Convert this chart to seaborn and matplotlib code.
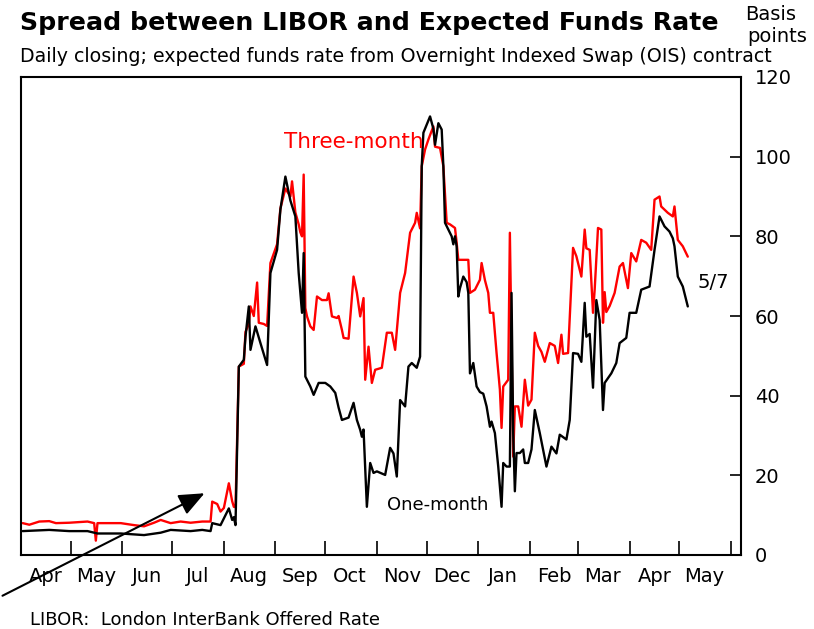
import numpy as np
import pandas as pd
import seaborn as sns
import matplotlib.pyplot as plt
import matplotlib.dates as mdates

sns.set_theme(style='white')
plt.rcParams['font.family'] = ['DejaVu Sans']
plt.rcParams['text.color'] = 'black'

# day offsets from 1 Apr 2007, spread in basis points
days_3m = [1, 5, 11, 17, 21, 29, 40, 44, 45, 46, 52, 60, 68, 74, 80, 84, 90, 96, 102, 109,
           114, 115, 118, 120, 122, 125, 127, 128, 129, 131, 134, 135, 137, 138, 140, 142, 143,
           146, 148, 150, 154, 156, 159, 162, 163, 165, 167, 168, 169, 170, 171, 172, 174, 176,
           178, 181, 184, 185, 187, 190, 191, 193, 194, 197, 200, 202, 204, 206, 207, 209, 211,
           213, 217, 220, 223, 225, 228, 231, 234, 237, 238, 240, 241, 243, 245, 248, 249, 252,
           254, 256, 258, 261, 262, 263, 266, 269, 270, 273, 276, 277, 279, 281, 282, 284, 286,
           288, 289, 290, 293, 294, 296, 297, 299, 301, 303, 305, 307, 309, 311, 313, 315, 318,
           321, 323, 325, 326, 329, 332, 334, 337, 339, 340, 342, 344, 345, 347, 349, 350, 351,
           352, 354, 357, 360, 362, 365, 367, 370, 373, 376, 379, 381, 384, 385, 389, 392, 393,
           395, 398, 401]
spread_3m = [8, 7.6, 8.4, 8.5, 8, 8.1, 8.4, 8, 3.6, 8, 8, 8, 7.5, 7.2, 8.1, 8.8, 8, 8.4, 8.1, 8.4,
             8.4, 13.4, 12.8, 10.9, 11.8, 18, 13.5, 12.1, 12, 47.3, 48, 56, 58, 62.4, 60, 68.4, 58.3,
             58, 57.5, 73.3, 78, 87, 92, 90, 93.8, 86, 83, 81, 80, 95.5, 62, 59.9, 57.4, 56.5,
             64.9, 64, 64, 65.7, 59.9, 59.5, 60, 56.5, 54.5, 54.3, 69.9, 65.8, 59.9, 64.5, 44, 52.3, 43.2,
             46.5, 47, 55.8, 55.8, 51.5, 65.8, 70.8, 80.9, 83.4, 85.9, 82, 97.6, 101.8, 104.3, 107.6, 102.5, 102.2,
             97.6, 83.4, 83, 82.1, 78.4, 74.1, 74.1, 74.1, 65.8, 66.6, 69.1, 73.3, 69, 65.8, 60.8, 60.8, 50.7,
             41.5, 31.9, 42.3, 44, 80.9, 24.7, 37.3, 37.3, 32.2, 44, 37.5, 39, 55.8, 52.5, 51, 48.5, 53.2,
             52.5, 48.2, 55.3, 50.5, 50.7, 77.1, 75, 69.9, 81.7, 77, 76.6, 60.8, 66.6, 82.1, 81.7, 58.3, 66,
             61, 62.5, 65.8, 72.4, 73.3, 67, 75.8, 73.7, 79.1, 78.4, 76.6, 89.2, 90, 87.5, 85.9, 85, 87.5,
             79.1, 77.5, 74.9]

days_1m = [1, 17, 29, 40, 46, 60, 74, 84, 90, 102, 109, 114, 115, 120, 125, 127, 128, 129, 131,
           134, 135, 137, 138, 141, 144, 148, 150, 154, 156, 159, 162, 165, 167, 169, 170, 171,
           174, 176, 179, 183, 186, 189, 191, 193, 197, 200, 202, 204, 205, 206, 208, 210, 212,
           214, 219, 222, 224, 226, 228, 231, 233, 235, 238, 240, 241, 242, 246, 248, 249, 251,
           253, 254, 255, 257, 259, 260, 261, 262, 263, 264, 266, 268, 269, 270, 272, 274, 276,
           278, 280, 282, 283, 285, 287, 289, 290, 292, 294, 295, 296, 297, 298, 300, 302, 303,
           305, 307, 309, 312, 316, 319, 322, 324, 328, 330, 332, 335, 337, 339, 340, 342, 344,
           346, 348, 350, 351, 355, 358, 360, 364, 366, 370, 373, 378, 381, 384, 387, 390, 392,
           393, 395, 398, 401]
spread_1m = [6, 6.3, 6, 6, 5.4, 5.4, 5, 5.6, 6.3, 6, 6.3, 6, 8, 7.5, 11.7, 8.8, 9.5, 7.5, 47.3,
             49, 54.8, 62.4, 51.5, 57.4, 53.2, 47.7, 70.8, 76.6, 86.7, 95, 89, 85, 70.8, 60.8, 75.8, 44.8,
             42.3, 40.2, 43.2, 43.2, 42.3, 40.7, 37, 33.9, 34.5, 38.2, 33.9, 31.4, 29.7, 31.5, 12.1, 23.1, 20.6,
             21, 20.1, 26.9, 25.5, 19.7, 38.9, 37.3, 47.3, 48.2, 47, 49.8, 97.6, 106, 110.1, 107, 103, 108.4,
             106.8, 97.6, 83.4, 81.7, 80, 78, 80, 77.5, 64.9, 67, 69.9, 68.5, 65.8, 45.6, 48.2, 42.3, 40.9,
             40.5, 37.3, 32.2, 33.5, 30.6, 22.2, 12.1, 23.1, 22.2, 22.2, 65.8, 30.6, 16, 25.6, 25.6, 26.5, 23.1,
             23.1, 26.5, 36.4, 30.6, 22.2, 27.2, 25.5, 30.2, 29, 33.9, 50.7, 50.5, 48.5, 63.3, 54.8, 55.5, 42,
             64, 59, 36.4, 43.2, 45.6, 48.2, 53.2, 54.5, 60.8, 60.8, 66.6, 67.4, 76.6, 85, 82.5, 81.2, 79.5,
             77.5, 69.9, 67.4, 62.4]

start = pd.Timestamp('2007-04-01')
df = pd.concat([
    pd.DataFrame({'date': start + pd.to_timedelta(days_3m, unit='D'), 'bp': spread_3m, 'series': 'Three-month'}),
    pd.DataFrame({'date': start + pd.to_timedelta(days_1m, unit='D'), 'bp': spread_1m, 'series': 'One-month'}),
])

fig = plt.figure(figsize=(8.14, 6.29), dpi=100)
ax = fig.add_axes([21 / 814, 74 / 629, 720 / 814, 478 / 629])

sns.lineplot(data=df, x='date', y='bp', hue='series', hue_order=['Three-month', 'One-month'],
             palette={'Three-month': '#ff0000', 'One-month': 'black'}, linewidth=1.7,
             legend=False, ax=ax)

ax.set_xlim(pd.Timestamp('2007-04-01'), pd.Timestamp('2008-06-07'))
ax.set_ylim(0, 120)
ax.set_xlabel('')
ax.set_ylabel('')

for s in ax.spines.values():
    s.set_color('black')
    s.set_linewidth(1.5)

ax.yaxis.tick_right()
ax.set_yticks([0, 20, 40, 60, 80, 100, 120])
ax.tick_params(axis='y', direction='in', length=8, width=1.2, pad=10, labelsize=14,
               right=True, left=False, colors='black')

ax.xaxis.set_major_locator(mdates.MonthLocator(bymonthday=1))
ax.xaxis.set_major_formatter(plt.NullFormatter())
ax.xaxis.set_minor_locator(mdates.MonthLocator(bymonthday=16))
ax.xaxis.set_minor_formatter(mdates.DateFormatter('%b'))
ax.tick_params(axis='x', which='major', direction='in', length=10, width=1.2, bottom=True,
               color='black')
ax.tick_params(axis='x', which='minor', length=0, pad=9, labelsize=14, labelcolor='black')

fig.text(20 / 814, 1 - 23 / 629, 'Spread between LIBOR and Expected Funds Rate',
         fontsize=18.2, fontweight='bold', va='center', ha='left')
fig.text(20 / 814, 1 - 56 / 629,
         'Daily closing; expected funds rate from Overnight Indexed Swap (OIS) contract',
         fontsize=13.7, va='center', ha='left')
fig.text(745 / 814, 1 - 15 / 629, 'Basis', fontsize=14, va='center', ha='left')
fig.text(747 / 814, 1 - 37 / 629, 'points', fontsize=14, va='center', ha='left')
fig.text(30 / 814, 1 - 620 / 629, 'LIBOR:  London InterBank Offered Rate',
         fontsize=13, va='center', ha='left')

ax.text(pd.Timestamp('2007-09-06'), 103.8, 'Three-month', color='#ff0000', fontsize=15.5,
        va='center')
ax.text(pd.Timestamp('2007-11-07'), 12.5, 'One-month', color='black', fontsize=13,
        va='center')
ax.text(pd.Timestamp('2008-05-12'), 68.5, '5/7', color='black', fontsize=14, va='center')

ax.annotate('', xy=(207, 629 - 492), xycoords='figure pixels',
            xytext=(0, 629 - 597), textcoords='figure pixels',
            arrowprops=dict(arrowstyle='-|>,head_length=1.3,head_width=0.55',
                            color='black', lw=1.5), annotation_clip=False)

fig.savefig('out.png', dpi=100)
